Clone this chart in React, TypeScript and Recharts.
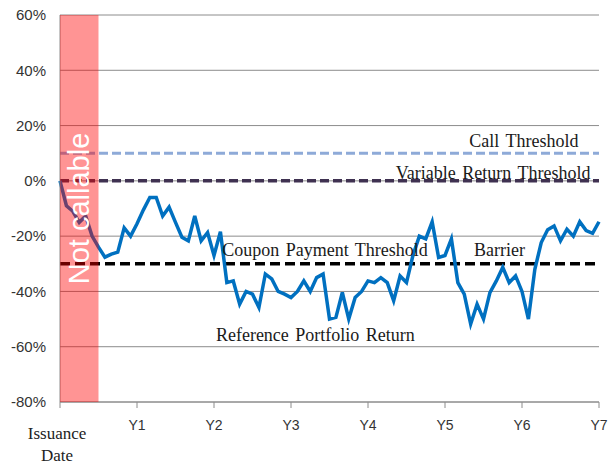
import {
  LineChart,
  Line,
  XAxis,
  YAxis,
  CartesianGrid,
  ReferenceLine,
  ReferenceArea,
  ReferenceDot,
} from "recharts";

// month index since issuance (0..84) and portfolio return in %
const returns = [
  0, -9, -11, -15, -12.7, -20, -24, -27.6, -26.5, -25.8,
  -17, -20, -15.5, -10.5, -6, -6, -12.7, -9.5, -15, -20.4,
  -21.7, -12.7, -21.7, -18.7, -27, -18.4, -36.8, -36.2, -44.6, -40,
  -41, -45.8, -33.7, -35.5, -40, -41, -42.2, -40, -36.2, -40,
  -35, -33.7, -50, -49.4, -40.4, -50, -42.2, -40, -36.2, -36.8,
  -35, -36.8, -43.4, -34.4, -36.8, -27, -20, -21, -14.8, -27.7,
  -27, -21, -36.8, -41, -51.8, -44.6, -50, -40.4, -36.2, -31.3,
  -36.8, -34.4, -40, -50, -32, -22.3, -17.7, -16.3, -21.7, -17.5,
  -20, -14.8, -18, -19, -14.8,
];

const yearTicks = [0, 12, 24, 36, 48, 60, 72, 84];
const yearLabels = ["Issuance Date", "Y1", "Y2", "Y3", "Y4", "Y5", "Y6", "Y7"];
const pctTicks = [-80, -60, -40, -20, 0, 20, 40, 60];

const callThreshold = 10;
const variableThreshold = 0;
const barrier = -30;
const notCallableMonths = 6;

// text annotations in data units: [month, return %, text]
const notes: [number, number, string][] = [
  [72.3, 14.4, "Call Threshold"],
  [67.5, 2.8, "Variable Return Threshold"],
  [41.3, -25, "Coupon Payment Threshold"],
  [68.5, -25, "Barrier"],
  [39.8, -55.7, "Reference Portfolio Return"],
];

const data = returns.map((r, i) => ({ month: i, ret: r }));

const serif = "'Liberation Serif', 'Times New Roman', serif";
const sans = "'Liberation Sans', Arial, sans-serif";

function YearTick(props: any) {
  const { x, y, payload } = props;
  const idx = yearTicks.indexOf(payload.value);
  const label = yearLabels[idx] ?? "";
  if (idx === 0) {
    return (
      <g>
        <text x={x - 3} y={y + 29} textAnchor="middle" fontFamily={serif} fontSize={17} fill="#222">
          Issuance
        </text>
        <text x={x - 3} y={y + 51} textAnchor="middle" fontFamily={serif} fontSize={17} fill="#222">
          Date
        </text>
      </g>
    );
  }
  return (
    <text x={x} y={y + 20} textAnchor="middle" fontFamily={sans} fontSize={14} fill="#333">
      {label}
    </text>
  );
}

function NoteLabel(props: any) {
  const { viewBox, value } = props;
  const cx = viewBox.x + (viewBox.width || 0) / 2;
  const cy = viewBox.y + (viewBox.height || 0) / 2;
  return (
    <text
      x={cx}
      y={cy}
      textAnchor="middle"
      dominantBaseline="central"
      fontFamily={serif}
      fontSize={18}
      fill="#1a1a1a"
      wordSpacing={2}
    >
      {value}
    </text>
  );
}

function NotCallableLabel(props: any) {
  const { viewBox } = props;
  const cx = viewBox.x + viewBox.width / 2;
  const cy = viewBox.y + viewBox.height * 0.5;
  return (
    <text
      x={cx}
      y={cy}
      transform={`rotate(-90 ${cx} ${cy})`}
      textAnchor="middle"
      dominantBaseline="central"
      fontFamily={sans}
      fontSize={29}
      fill="#ffffff"
    >
      Not callable
    </text>
  );
}

export default function App() {
  return (
    <div style={{ position: "absolute", left: 0, top: 0, width: 608, height: 465, background: "#fff" }}>
      <LineChart
        width={608}
        height={465}
        data={data}
        margin={{ top: 15, right: 9, bottom: 3, left: 10 }}
      >
        <CartesianGrid vertical={false} stroke="#8c8c8c" strokeWidth={1} />
        <XAxis
          dataKey="month"
          type="number"
          domain={[0, 84]}
          ticks={yearTicks}
          interval={0}
          tick={<YearTick />}
          tickSize={6}
          height={60}
          stroke="#8c8c8c"
        />
        <YAxis
          domain={[-80, 60]}
          ticks={pctTicks}
          interval={0}
          width={50}
          tickLine={false}
          stroke="#8c8c8c"
          tickFormatter={(v: number) => `${v}%`}
          tick={{ fontFamily: sans, fontSize: 15, fill: "#333" }}
          tickMargin={8}
        />
        <ReferenceLine y={callThreshold} stroke="#8eaad8" strokeWidth={3} strokeDasharray="9 4" />
        <ReferenceLine y={variableThreshold} stroke="#3f3151" strokeWidth={3.5} strokeDasharray="9 4" />
        <ReferenceLine y={barrier} stroke="#000000" strokeWidth={3.5} strokeDasharray="10 5" />
        <Line
          dataKey="ret"
          stroke="#0070c0"
          strokeWidth={3.5}
          dot={false}
          isAnimationActive={false}
          type="linear"
        />
        {notes.map(([m, v, t]) => (
          <ReferenceDot
            key={t}
            x={m}
            y={v}
            r={0}
            fill="none"
            stroke="none"
            label={<NoteLabel value={t} />}
          />
        ))}
        <ReferenceArea
          x1={0}
          x2={notCallableMonths}
          y1={-80}
          y2={60}
          fill="#ff0000"
          fillOpacity={0.42}
          stroke="none"
          zIndex={1000}
          label={<NotCallableLabel />}
        />
      </LineChart>
    </div>
  );
}
